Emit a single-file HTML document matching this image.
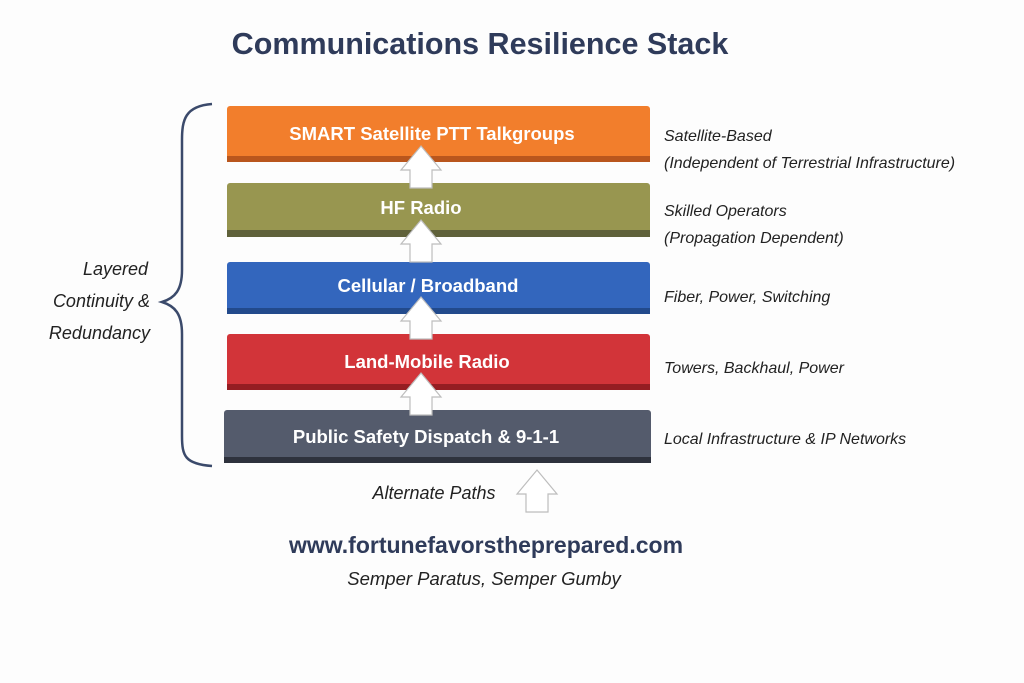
<!DOCTYPE html>
<html><head><meta charset="utf-8"><style>
html,body{margin:0;padding:0;background:#fdfdfd;}
svg{display:block;}
</style></head><body>
<svg width="1024" height="683" viewBox="0 0 1024 683" xmlns="http://www.w3.org/2000/svg" font-family="Liberation Sans, sans-serif">
<defs>
<g id="arr"><path d="M0,0 L20,24 L11,24 L11,42 L-11,42 L-11,24 L-20,24 Z" fill="#fff" stroke="#bdbdbd" stroke-width="1.2"/></g>
</defs>
<rect width="1024" height="683" fill="#fdfdfd"/>
<text x="480" y="54" text-anchor="middle" font-size="30.5" font-weight="bold" fill="#2f3b5a">Communications Resilience Stack</text>

<rect x="227" y="106" width="423" height="56" rx="3" fill="#f27e2c"/>
<rect x="227" y="156" width="423" height="6" fill="#b9561d"/>
<rect x="227" y="183" width="423" height="54" rx="3" fill="#989650"/>
<rect x="227" y="230" width="423" height="7" fill="#5f613a"/>
<rect x="227" y="262" width="423" height="52" rx="3" fill="#3366bd"/>
<rect x="227" y="308" width="423" height="6" fill="#224a8c"/>
<rect x="227" y="334" width="423" height="56" rx="3" fill="#d23439"/>
<rect x="227" y="384" width="423" height="6" fill="#951d22"/>
<rect x="224" y="410" width="427" height="53" rx="3" fill="#545b6c"/>
<rect x="224" y="457" width="427" height="6" fill="#2e323d"/>

<g fill="#fff" font-weight="bold" font-size="18.5" text-anchor="middle">
<text x="432" y="140">SMART Satellite PTT Talkgroups</text>
<text x="421" y="214">HF Radio</text>
<text x="428" y="292">Cellular / Broadband</text>
<text x="427" y="368">Land-Mobile Radio</text>
<text x="426" y="443">Public Safety Dispatch &amp; 9-1-1</text>
</g>

<use href="#arr" x="421" y="146"/>
<use href="#arr" x="421" y="220"/>
<use href="#arr" x="421" y="297"/>
<use href="#arr" x="421" y="373"/>
<use href="#arr" x="537" y="470"/>

<g fill="#222" font-style="italic" font-size="16">
<text x="664" y="141">Satellite-Based</text>
<text x="664" y="168">(Independent of Terrestrial Infrastructure)</text>
<text x="664" y="216">Skilled Operators</text>
<text x="664" y="243">(Propagation Dependent)</text>
<text x="664" y="302">Fiber, Power, Switching</text>
<text x="664" y="373">Towers, Backhaul, Power</text>
<text x="664" y="444">Local Infrastructure &amp; IP Networks</text>
</g>

<path d="M212,104 C185,106 182,120 182,140 L182,270 C182,290 175,298 162,302 C175,306 182,314 182,334 L182,436 C182,456 185,464 212,466" fill="none" stroke="#3b4a6b" stroke-width="2.5"/>
<g fill="#222" font-style="italic" font-size="18" text-anchor="end">
<text x="148" y="275">Layered</text>
<text x="150" y="307">Continuity &amp;</text>
<text x="150" y="339">Redundancy</text>
</g>

<text x="434" y="499" text-anchor="middle" font-style="italic" font-size="18" fill="#222">Alternate Paths</text>
<text x="486" y="553" text-anchor="middle" font-weight="bold" font-size="23" fill="#2f3b5a">www.fortunefavorstheprepared.com</text>
<text x="484" y="585" text-anchor="middle" font-style="italic" font-size="18.5" fill="#222">Semper Paratus, Semper Gumby</text>
</svg>
</body></html>
